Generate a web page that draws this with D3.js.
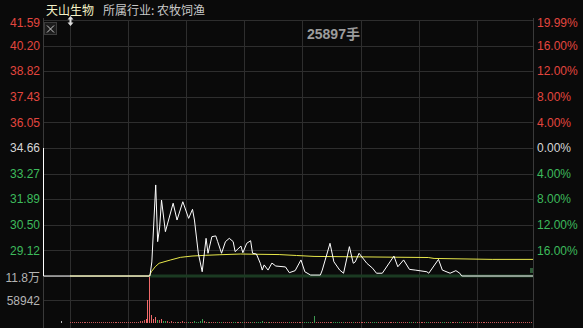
<!DOCTYPE html>
<html><head><meta charset="utf-8">
<script src="https://cdn.jsdelivr.net/npm/d3@7"></script>
<style>
html,body{margin:0;padding:0;background:#0a0a0a;}
svg{display:block;}
</style></head><body>
<svg id="c" width="583" height="328"></svg>
<script>
const stockName = "天山生物";
const industryText = "所属行业: 农牧饲渔";
const volumeNote = "25897手";
const prevClose = 34.66;
const limitDown = 27.73;
const limitUp = 41.59;
const priceTicks = [41.59, 40.20, 38.82, 37.43, 36.05, 34.66, 33.27, 31.89, 30.50, 29.12];
const pctLabels = ["19.99%","16.00%","12.00%","8.00%","4.00%","0.00%","4.00%","8.00%","12.00%","16.00%"];
const volTickValues = [117884, 58942];
const volTickLabels = ["11.8万", "58942"];
const gridMinutes = [0, 30, 60, 90, 120, 150, 180, 210];

// minute (−15..0 = call auction, 0..240 = session) and price at each vertex of the line
const priceMinutes = [-15, -15, 41, 42, 44, 45, 46, 47, 49, 53, 55, 58, 61, 63, 64, 66, 68, 70, 71, 73, 75, 76, 78, 80, 82, 84, 85, 88, 89, 91, 93, 94, 96, 98, 99, 100, 102, 104, 106, 111, 113, 116, 119, 121, 124, 129, 130, 134, 136, 139, 141, 144, 146, 147, 149, 153, 156, 158, 161, 167, 169, 172, 175, 178, 184, 185, 190, 192, 196, 199, 201, 202, 240];
const prices = [34.66, 27.73, 27.73, 28.49, 32.66, 29.59, 30.33, 31.84, 30.13, 31.67, 30.76, 31.75, 30.85, 31.34, 30.76, 28.96, 27.96, 29.77, 28.96, 29.86, 29.90, 29.59, 28.96, 29.59, 29.77, 29.59, 29.05, 29.35, 28.99, 29.50, 29.64, 28.96, 28.92, 28.42, 28.05, 28.33, 28.05, 28.43, 28.27, 28.22, 27.91, 28.02, 28.60, 27.96, 27.78, 27.78, 28.05, 29.50, 28.50, 28.05, 27.88, 29.32, 28.42, 28.49, 28.96, 28.42, 28.15, 27.88, 27.88, 28.81, 28.23, 28.60, 28.09, 28.05, 27.96, 27.88, 28.63, 28.05, 27.88, 28.02, 27.88, 27.73, 27.73];

const avgMinutes = [0, 41, 42, 44, 46, 52, 57, 63, 70, 77, 88, 108, 117, 126, 185, 188, 218, 240];
const avgPrices = [27.73, 27.73, 27.96, 28.23, 28.42, 28.60, 28.74, 28.81, 28.85, 28.88, 28.92, 28.89, 28.84, 28.79, 28.73, 28.68, 28.63, 28.63];

// per-minute volume (手), minute 0..240
const volumes = [
 3800, 2100, 1900, 2600, 1500, 2300, 2800, 1700, 2000, 2400,
 1600, 2200, 2900, 1800, 2100, 2500, 1700, 2300, 2000, 1900,
 2700, 2200, 1600, 2400, 2100, 1800, 2600, 2300, 2000, 2800,
 2500, 3100, 2400, 2900, 3600, 3300, 4200, 5100, 6800, 9500,
 58000, 117884, 21000, 9800, 14500, 8200, 6900, 10500, 5200, 4600,
 3900, 3400, 4100, 3000, 3600, 2800, 3300, 2500, 4200, 2900,
 3100, 2700, 3500, 2600, 4400, 3800, 3000, 5200, 9600, 4100,
 3600, 2800, 2400, 3100, 2700, 2200, 3000, 2500, 2900, 2300,
 2600, 2100, 2800, 2400, 2000, 3200, 2300, 2100, 2700, 2500,
 2200, 2600, 2000, 2400, 2900, 2300, 2100, 2500, 3400, 5800,
 2700, 2300, 2600, 2100, 2400, 2000, 2200, 1900, 2500, 2100,
 2300, 2000, 2600, 3000, 2200, 1900, 2400, 2100, 2800, 2600,
 2200, 2500, 2900, 2400, 2700, 3100, 17500, 3300, 2600, 2400,
 2900, 2300, 2600, 2100, 3200, 2500, 2800, 2200, 2400, 2000,
 2300, 2700, 2100, 2500, 3000, 2200, 2400, 2000, 2600, 2300,
 2100, 2500, 1900, 2400, 2200, 2000, 2600, 2300, 2100, 2700,
 2200, 2000, 2400, 2100, 2500, 2300, 1900, 2800, 2200, 2400,
 2000, 2300, 2600, 2100, 2400, 2000, 2200, 1800, 2500, 2100,
 2300, 1900, 2200, 2000, 2400, 2100, 1800, 2300, 2000, 2600,
 2200, 2000, 2500, 2100, 1900, 2300, 2000, 2200, 1800, 2400,
 2100, 2300, 2600, 2000, 2200, 1900, 2400, 2100, 2000, 2300,
 1900, 2200, 2000, 2400, 2100, 1800, 2300, 2000, 2200, 1900,
 2100, 2400, 2000, 2200, 1800, 2300, 2100, 1900, 2200, 2000,
 2300, 2100, 1900, 2200, 2000, 2400, 2100, 1900, 2300, 2600,
 4800];
const downMinutes = [45, 48, 49, 55, 61, 64, 65, 66, 67, 68, 71, 76, 78, 84, 85, 89, 94, 96, 97, 98, 99, 102, 113, 121, 122, 123, 124, 126, 136, 137, 138, 139, 141, 146, 153, 156, 157, 158, 169, 175, 176, 178, 184, 185, 192, 193, 196, 201, 202];
const auctionVolMinute = -5;
const auctionVolume = 5000;

const svg = d3.select("#c");
const L = 43, R = 533;
const x = d3.scaleLinear().domain([-15, 0, 240]).range([43, 70, 534.8]);
const y = d3.scaleLinear().domain([limitDown, limitUp]).range([276, 20]);
const yv = d3.scaleLinear().domain([0, 117884]).range([323, 277]);

svg.append("rect").attr("width", 583).attr("height", 328).attr("fill", "#0a0a0a");

svg.append("defs").append("clipPath").attr("id", "clip")
  .append("rect").attr("x", L).attr("y", 0).attr("width", R - L).attr("height", 328);

const grid = svg.append("g").attr("shape-rendering", "crispEdges").attr("stroke", "#2e2e2e").attr("stroke-width", 1);
// horizontal price grid
grid.selectAll("line.h").data(priceTicks.concat([limitDown])).enter().append("line")
  .attr("x1", L).attr("x2", R)
  .attr("y1", d => Math.round(y(d)) + 0.5).attr("y2", d => Math.round(y(d)) + 0.5);
// volume mid grid
grid.append("line").attr("x1", L).attr("x2", R)
  .attr("y1", Math.round(yv(volTickValues[1])) + 0.5).attr("y2", Math.round(yv(volTickValues[1])) + 0.5);
// vertical grid
grid.selectAll("line.v").data(gridMinutes).enter().append("line")
  .attr("x1", d => Math.round(x(d)) + 0.5).attr("x2", d => Math.round(x(d)) + 0.5)
  .attr("y1", 20).attr("y2", 328);
// borders
grid.append("line").attr("x1", L + 0.5).attr("x2", L + 0.5).attr("y1", 18).attr("y2", 328).attr("stroke", "#3a3a3a");
grid.append("line").attr("x1", R + 0.5).attr("x2", R + 0.5).attr("y1", 18).attr("y2", 328).attr("stroke", "#3a3a3a");

// limit-down band
svg.append("line").attr("x1", x(41)).attr("x2", R).attr("y1", y(limitDown)).attr("y2", y(limitDown))
  .attr("stroke", "#1b3a22").attr("stroke-width", 3);
svg.append("rect").attr("x", 530).attr("y", 268).attr("width", 3).attr("height", 5).attr("fill", "#2f5a38");

const plot = svg.append("g").attr("clip-path", "url(#clip)");

// volume bars
const downSet = new Set(downMinutes);
plot.append("g").attr("shape-rendering", "crispEdges").selectAll("rect").data(volumes).enter().append("rect")
  .attr("x", (d, i) => Math.round(x(i)) - 0.5 + 0.5)
  .attr("width", 1)
  .attr("y", d => Math.min(Math.round(yv(d)), 322))
  .attr("height", d => Math.max(1, 323 - Math.min(Math.round(yv(d)), 322)))
  .attr("fill", (d, i) => downSet.has(i) ? "#3e9a52" : (d > 8000 ? "#f06a6a" : "#c85a5a"));
plot.append("rect").attr("x", Math.round(x(auctionVolMinute))).attr("width", 1)
  .attr("y", Math.round(yv(auctionVolume))).attr("height", 323 - Math.round(yv(auctionVolume)))
  .attr("fill", "#bbbbbb");

// average line
plot.append("path").datum(avgMinutes.map((m, i) => [m, avgPrices[i]]))
  .attr("fill", "none").attr("stroke", "#e8e84a").attr("stroke-width", 1)
  .attr("d", d3.line().x(d => x(d[0])).y(d => y(d[1])));

// price line
plot.append("path").datum(priceMinutes.map((m, i) => [m, prices[i]]))
  .attr("fill", "none").attr("stroke", "#ffffff").attr("stroke-width", 1)
  .attr("d", d3.line().x(d => x(d[0]) + 0.5).y(d => y(d[1])));

// axis labels
const colorFor = v => v > prevClose + 0.001 ? "#e2463f" : (v < prevClose - 0.001 ? "#3dba5c" : "#d6d6d6");
const labelY = v => Math.max(y(v), 22.3) + 4.3;
svg.append("g").selectAll("text").data(priceTicks).enter().append("text")
  .attr("x", 40).attr("y", labelY).attr("text-anchor", "end")
  .attr("font-family", "'Liberation Sans', Arial, sans-serif").attr("font-size", 12)
  .attr("fill", colorFor).text(d => d.toFixed(2));
svg.append("g").selectAll("text").data(priceTicks).enter().append("text")
  .attr("x", 537).attr("y", labelY)
  .attr("font-family", "'Liberation Sans', Arial, sans-serif").attr("font-size", 12)
  .attr("fill", colorFor).text((d, i) => pctLabels[i]);
svg.append("g").selectAll("text").data(volTickValues).enter().append("text")
  .attr("x", 40).attr("y", d => yv(d) + 4.5).attr("text-anchor", "end")
  .attr("font-family", "'Liberation Sans', Arial, 'Noto Sans CJK SC', sans-serif").attr("font-size", 12)
  .attr("fill", "#b4b4b4").text((d, i) => volTickLabels[i]);

// title
svg.append("text").attr("x", 46).attr("y", 15).attr("font-family", "'Noto Sans CJK SC', sans-serif")
  .attr("font-size", 12).attr("fill", "#f4f2c6").text(stockName);
svg.append("text").attr("x", 103).attr("y", 15).attr("font-family", "'Noto Sans CJK SC', sans-serif")
  .attr("font-size", 12).attr("fill", "#c8c8c8").text(industryText);
svg.append("text").attr("x", 307).attr("y", 39).attr("font-family", "'Liberation Sans', Arial, 'Noto Sans CJK SC', sans-serif")
  .attr("font-size", 14).attr("font-weight", "bold").attr("fill", "#9c9c9c").text(volumeNote);

// close box
const bx = svg.append("g");
bx.append("rect").attr("x", 44.5).attr("y", 22.5).attr("width", 12).attr("height", 12)
  .attr("fill", "#1c1c1c").attr("stroke", "#3c3c3c");
bx.append("path").attr("d", "M47,25.5L54,32.5M54,25.5L47,32.5").attr("stroke", "#c8c8c8").attr("stroke-width", 1);

// drag handle at 9:30
const hx = Math.round(x(0)) + 0.5;
svg.append("path")
  .attr("d", `M${hx},16 L${hx + 3},19.5 L${hx - 3},19.5 Z M${hx},26 L${hx + 3},22.5 L${hx - 3},22.5 Z`)
  .attr("fill", "#dddddd");
svg.append("rect").attr("x", hx - 1).attr("y", 19).attr("width", 2).attr("height", 4).attr("fill", "#dddddd");
</script>
</body></html>
